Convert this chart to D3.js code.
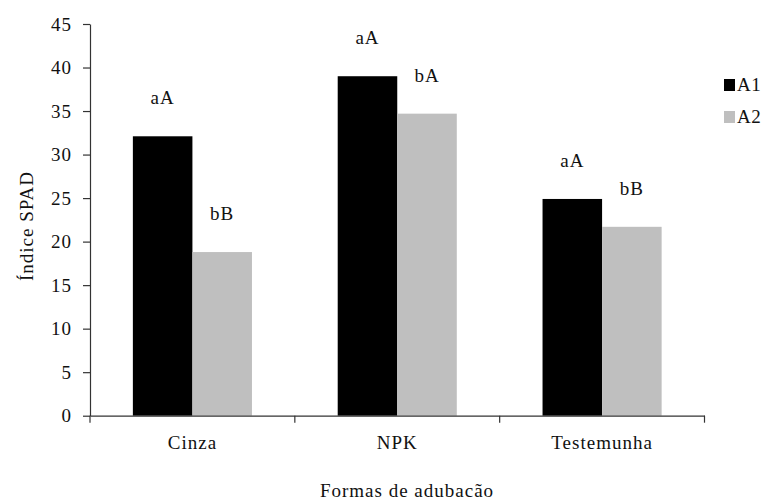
<!DOCTYPE html>
<html>
<head>
<meta charset="utf-8">
<script src="https://cdn.jsdelivr.net/npm/d3@7"></script>
<style>
	body { margin: 0; background: #fff; }
	.axis path, .axis line { stroke: #333; stroke-width: 1.2px; }
</style>
</head>
<body>
<script>
//chart data
var categories = ["Cinza", "NPK", "Testemunha"];
var seriesNames = ["A1", "A2"];
var valuesA1 = [32.1, 39.0, 24.9];
var valuesA2 = [18.8, 34.7, 21.7];
var lettersA1 = ["aA", "aA", "aA"];
var lettersA2 = ["bB", "bA", "bB"];
var yTicks = [0, 5, 10, 15, 20, 25, 30, 35, 40, 45];
var seriesColors = ["#000000", "#bfbfbf"];

var fontFamily = "'Liberation Serif', 'DejaVu Serif', 'Times New Roman', serif";

var width = 763,
	height = 503;

var svg = d3.select("body")
	.append("svg")
	.attr("width", width)
	.attr("height", height);

//scales
var x0 = d3.scaleBand()
	.domain(categories)
	.range([90, 704.5])
	.paddingInner(0)
	.paddingOuter(0);

var x1 = d3.scaleBand()
	.domain(seriesNames)
	.range([0, x0.bandwidth()])
	.paddingInner(0)
	.paddingOuter(0.72);

var y = d3.scaleLinear()
	.domain([0, 45])
	.range([415.7, 24]);

var color = d3.scaleOrdinal()
	.domain(seriesNames)
	.range(seriesColors);

//build rows for the bars
var rows = [];
categories.forEach(function(c, i){
	rows.push({cat: c, series: "A1", value: valuesA1[i], letter: lettersA1[i]});
	rows.push({cat: c, series: "A2", value: valuesA2[i], letter: lettersA2[i]});
});

//bars
svg.selectAll(".bar")
	.data(rows)
	.enter()
	.append("rect")
	.attr("class", "bar")
	.attr("x", function(d){ return x0(d.cat) + x1(d.series); })
	.attr("width", x1.bandwidth())
	.attr("y", function(d){ return y(d.value); })
	.attr("height", function(d){ return y(0) - y(d.value); })
	.style("fill", function(d){ return color(d.series); });

//significance letters above bars
svg.selectAll(".letter")
	.data(rows)
	.enter()
	.append("text")
	.attr("class", "letter")
	.attr("x", function(d){ return x0(d.cat) + x1(d.series) + x1.bandwidth() / 2; })
	.attr("y", function(d){ return y(d.value) - 32; })
	.attr("text-anchor", "middle")
	.text(function(d){ return d.letter; });

//y axis
var yAxis = d3.axisLeft(y)
	.tickValues(yTicks)
	.tickSize(7)
	.tickSizeOuter(0)
	.tickPadding(11);

var yG = svg.append("g")
	.attr("class", "axis")
	.attr("transform", "translate(90,0)")
	.call(yAxis);

//x axis (labels only, boundary ticks drawn below)
var xAxis = d3.axisBottom(x0)
	.tickSize(0)
	.tickSizeOuter(0)
	.tickPadding(20);

var xG = svg.append("g")
	.attr("class", "axis")
	.attr("transform", "translate(0," + y(0) + ")")
	.call(xAxis);

//category boundary ticks
var bounds = categories.map(function(c){ return x0(c); }).concat([x0.range()[1]]);
xG.selectAll(".bound")
	.data(bounds)
	.enter()
	.append("line")
	.attr("class", "bound")
	.attr("x1", function(d){ return d; })
	.attr("x2", function(d){ return d; })
	.attr("y1", 0)
	.attr("y2", 7);

//axis titles
svg.append("text")
	.attr("x", 407)
	.attr("y", 497)
	.attr("text-anchor", "middle")
	.text("Formas de adubacão");

svg.append("text")
	.attr("transform", "translate(33,226) rotate(-90)")
	.attr("text-anchor", "middle")
	.text("Índice SPAD");

//legend
var legend = svg.selectAll(".legend")
	.data(seriesNames)
	.enter()
	.append("g")
	.attr("class", "legend")
	.attr("transform", function(d, i){ return "translate(724," + (79 + i * 32) + ")"; });

legend.append("rect")
	.attr("width", 11)
	.attr("height", 12)
	.style("fill", function(d){ return color(d); });

legend.append("text")
	.attr("x", 13)
	.attr("y", 12)
	.style("letter-spacing", "1px")
	.text(function(d){ return d; });

//common text styling
svg.selectAll("text")
	.attr("font-family", fontFamily)
	.style("font-family", fontFamily)
	.style("font-size", "19px")
	.style("fill", "#111");
svg.selectAll("text:not(.legend text)")
	.style("letter-spacing", "1px");
svg.selectAll(".legend text").style("letter-spacing", "0.5px");
</script>
</body>
</html>
